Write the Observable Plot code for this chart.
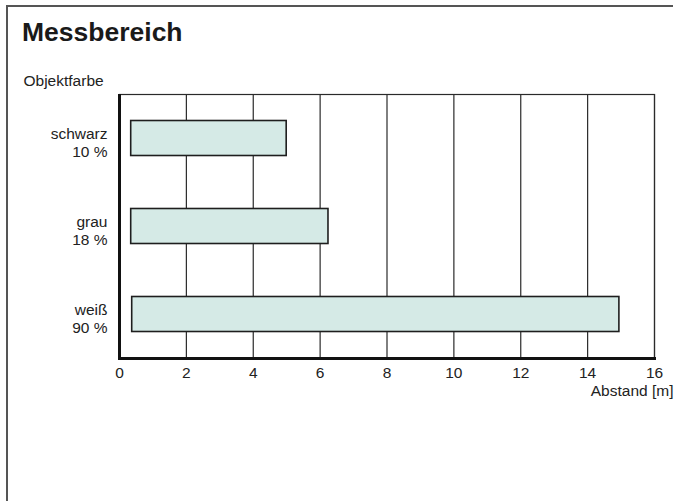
<!DOCTYPE html>
<html>
<head>
<meta charset="utf-8">
<script src="https://cdn.jsdelivr.net/npm/d3@7"></script>
<script src="https://cdn.jsdelivr.net/npm/@observablehq/plot@0.6"></script>
<style>
  html, body { margin: 0; padding: 0; background: #fff; }
  #wrap { position: relative; width: 678px; height: 501px; overflow: hidden; font-family: "Liberation Sans", Arial, sans-serif; }
  #border { position: absolute; left: 6px; top: 5px; width: 667px; height: 600px; border-top: 2px solid #555; border-left: 2px solid #555; box-sizing: border-box; }
  #title { position: absolute; left: 22px; top: 17px; font-size: 26.5px; font-weight: bold; color: #1a1a1a; line-height: 30px; }
  #chart { position: absolute; left: 0; top: 56px; }
</style>
</head>
<body>
<div id="wrap">
  <div id="border"></div>
  <div id="title">Messbereich</div>
  <div id="chart"></div>
</div>
<script>
const categories = ["schwarz", "grau", "weiß"];
const reflectance = ["10 %", "18 %", "90 %"];
const rangeStart = [0.35, 0.35, 0.38];
const rangeEnd = [5.0, 6.25, 14.95];
const xTicks = [0, 2, 4, 6, 8, 10, 12, 14, 16];
const yTitle = "Objektfarbe";
const xTitle = "Abstand [m]";

const data = categories.map((c, i) => ({ name: c, label: c + "\n" + reflectance[i], start: rangeStart[i], end: rangeEnd[i] }));
const labelOf = new Map(data.map(d => [d.name, d.label]));

const plot = Plot.plot({
  width: 678,
  height: 445,
  marginTop: 38,
  marginBottom: 143,
  marginLeft: 119,
  marginRight: 24,
  style: { fontFamily: "'Liberation Sans', Arial, sans-serif", fontSize: "15.5px", color: "#222", background: "transparent", overflow: "visible" },
  x: { domain: [0, 16] },
  y: { domain: categories, padding: 0 },
  marks: [
    Plot.ruleX(xTicks, { stroke: "#2a2a2a", strokeWidth: 1.2 }),
    Plot.frame({ stroke: "#2a2a2a", strokeWidth: 1.2 }),
    Plot.barX(data, { x1: "start", x2: "end", y: "name", fill: "#d5eae6", stroke: "#1e1e1e", strokeWidth: 1.6, insetTop: 26.5, insetBottom: 26.5 }),
    Plot.ruleX([0], { stroke: "#111", strokeWidth: 3 }),
    Plot.frame({ anchor: "bottom", stroke: "#111", strokeWidth: 3 }),
    Plot.axisX({ ticks: xTicks, tickSize: 0, tickPadding: 8, label: null, fontSize: 15.5, fill: "#222" }),
    Plot.axisY({ tickSize: 0, tickPadding: 12, label: null, tickFormat: d => labelOf.get(d), lineHeight: 1.16, dy: 4, fontSize: 15.5, fill: "#222" }),
    Plot.text([yTitle], { frameAnchor: "top-left", textAnchor: "start", lineAnchor: "middle", dx: -96, dy: -13, fontSize: 15.5, fill: "#222" }),
    Plot.text([xTitle], { frameAnchor: "bottom-right", textAnchor: "end", lineAnchor: "middle", dx: 19, dy: 33, fontSize: 15.5, fill: "#222" })
  ]
});
document.getElementById("chart").appendChild(plot);
</script>
</body>
</html>
